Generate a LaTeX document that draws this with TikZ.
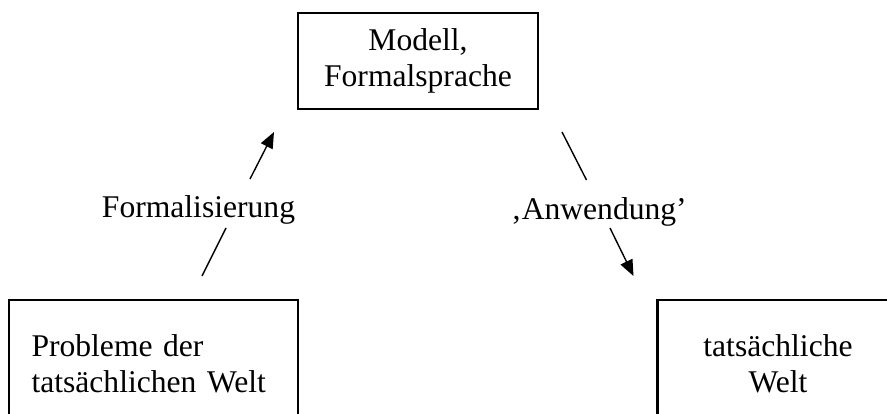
\documentclass[tikz,border=0pt]{standalone}
\usepackage{fontspec}
\setmainfont{Liberation Serif}
\usetikzlibrary{arrows.meta}
\tikzset{
  boxnode/.style={draw, line width=2.2pt, rectangle, inner sep=0pt, align=center},
  lbl/.style={inner sep=0pt, anchor=base},
  conn/.style={line width=1.4pt},
  tipconn/.style={line width=1.4pt, -{Triangle[length=16pt,width=13pt]}}
}
\begin{document}
\begin{tikzpicture}[x=1pt,y=-1pt,font=\fontsize{31.6}{36}\selectfont]
\useasboundingbox (0,0) rectangle (887,414);
\clip (0,0) rectangle (887,414);
% boxes
\node[boxnode, minimum width=240pt, minimum height=96pt] (model) at (418,61)
  {Modell,\\Formalsprache};
\node[boxnode, align=left, text width=244pt, inner xsep=22.2pt, minimum height=128pt] (prob) at (153.5,364)
  {Probleme der\\tatsächlichen Welt};
\node[boxnode, minimum width=241pt, minimum height=128pt] (welt) at (778,364)
  {tatsächliche\\Welt};
% labels
\node[lbl] (form) at (198.5,218) {Formalisierung};
\node[lbl] (anw) at (599,220) {‚Anwendung’};
% connector coordinates
\coordinate (f1) at (202,276);
\coordinate (f2) at (226,228);
\coordinate (f3) at (250,179);
\coordinate (f4) at (274,132);
\coordinate (w1) at (562,132);
\coordinate (w2) at (586.5,180);
\coordinate (w3) at (610,228);
\coordinate (w4) at (633.5,276);
% connectors
\draw[conn] (f1) -- (f2);
\draw[tipconn] (f3) -- (f4);
\draw[conn] (w1) -- (w2);
\draw[tipconn] (w3) -- (w4);
\end{tikzpicture}
\end{document}
